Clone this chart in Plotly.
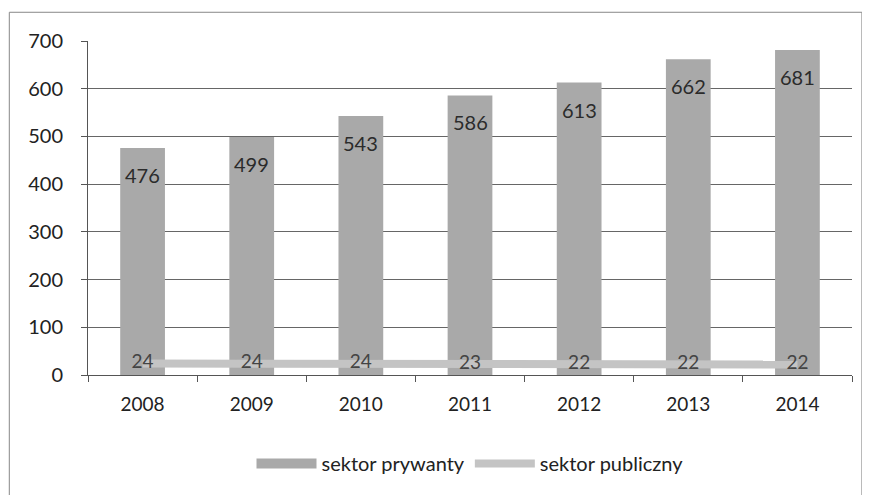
import plotly.graph_objects as go

years = ["2008", "2009", "2010", "2011", "2012", "2013", "2014"]
prywatny = [476, 499, 543, 586, 613, 662, 681]
publiczny = [24, 24, 24, 23, 22, 22, 22]

FONT = "Lato, 'Open Sans', sans-serif"
BAR_COLOR = "#a9a9a9"
LINE_COLOR = "#c4c4c4"

fig = go.Figure()
fig.add_trace(go.Bar(
    x=years, y=prywatny, name="sektor prywanty",
    marker=dict(color=BAR_COLOR, line=dict(width=0)),
    width=0.41, showlegend=False,
))
# legend entry for bars (wide rectangle symbol like the original)
fig.add_trace(go.Scatter(
    x=[years[0]], y=[None], name="sektor prywanty", mode="lines",
    line=dict(color=BAR_COLOR, width=12),
))
fig.add_trace(go.Scatter(
    x=years, y=publiczny, name="sektor publiczny",
    mode="lines+text", line=dict(color=LINE_COLOR, width=8),
    text=[str(v) for v in publiczny], textposition="middle center",
    textfont=dict(size=19, color="#444444", family=FONT),
))

for i, v in enumerate(prywatny):
    fig.add_annotation(x=i, y=v, text=str(v), showarrow=False,
                       yanchor="middle", yshift=-27,
                       font=dict(size=20, color="#2b2b2b", family=FONT))

fig.update_layout(
    width=862, height=487,
    margin=dict(l=80, r=18, t=33, b=110),
    paper_bgcolor="white", plot_bgcolor="white",
    font=dict(family=FONT, size=19, color="#222222"),
    showlegend=True,
    legend=dict(orientation="h", x=0.5, xanchor="center", y=-0.265, yanchor="middle",
                font=dict(size=20, color="#222222"), itemwidth=60),
    shapes=[dict(type="rect", xref="paper", yref="paper",
                 x0=-0.103, x1=1.013, y0=-0.40, y1=1.086,
                 line=dict(color="#888888", width=1))],
)
fig.update_xaxes(
    type="category", range=[-0.5, len(years) - 0.5],
    showgrid=False, showline=True, linecolor="#555555", linewidth=1,
    ticks="outside", tickson="boundaries", ticklen=6, tickcolor="#555555",
    tickfont=dict(size=19, color="#222222"), ticklabelstandoff=12,
)
fig.update_yaxes(
    range=[0, 700], dtick=100, showgrid=True, gridcolor="#666666", gridwidth=1,
    showline=True, linecolor="#555555", linewidth=1,
    ticks="outside", ticklen=6, tickcolor="#555555", zeroline=False,
    tickfont=dict(size=20, color="#222222"), ticklabelstandoff=14,
)

fig.write_html("out.html")
